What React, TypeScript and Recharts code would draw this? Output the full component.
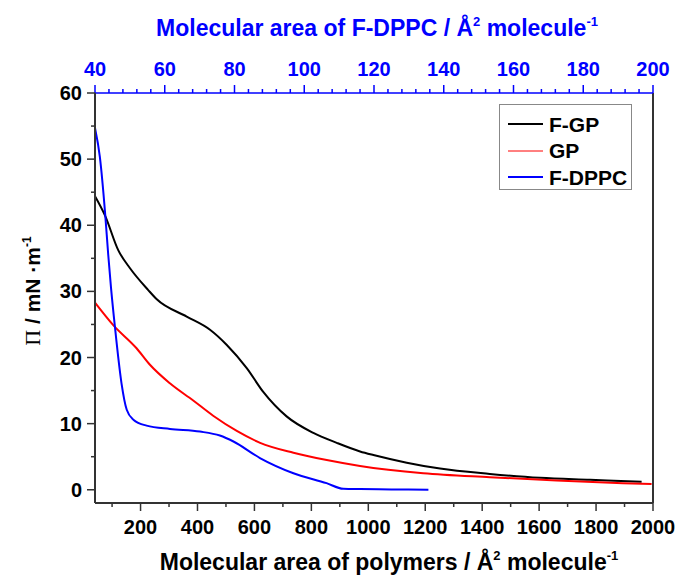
import React from 'react'
import { LineChart, Line, XAxis, YAxis, Legend, Label, ReferenceLine } from 'recharts'

// F-GP and GP, plotted against the bottom axis (polymers, Å²/molecule)
const fgpArea = [40, 75, 122, 163, 227, 257, 362, 444, 503, 573, 631, 713, 807, 889, 971, 1018, 1135, 1252, 1427, 1603, 1779, 1960]
const fgpPi = [44.4, 41.5, 36.2, 33.5, 30.2, 28.8, 26.2, 24.2, 21.9, 18.4, 14.8, 11.1, 8.6, 7.1, 5.8, 5.25, 4.1, 3.2, 2.4, 1.8, 1.5, 1.2]

const gpArea = [40, 104, 186, 233, 303, 385, 455, 538, 620, 737, 854, 971, 1193, 1427, 1661, 1894, 1995]
const gpPi = [28.3, 24.9, 21.4, 18.9, 16.1, 13.5, 11.2, 8.9, 7.1, 5.6, 4.5, 3.6, 2.5, 1.9, 1.4, 1.0, 0.86]

// F-DPPC, plotted against the top axis (F-DPPC, Å²/molecule)
const dppcArea = [40, 41.4, 42.9, 43.8, 44.6, 45.7, 47.6, 49.1, 51.0, 54.8, 61.5, 70.1, 75.8, 79.7, 87.3, 96.9, 106.4, 111.2, 116, 125, 135.6]
const dppcPi = [54.7, 50.3, 41.8, 35.5, 30.5, 24.7, 16.1, 12.1, 10.6, 9.7, 9.2, 8.8, 8.2, 7.3, 4.8, 2.5, 1.0, 0.15, 0.1, 0.05, 0.0]

const seriesNames = ['F-GP', 'GP', 'F-DPPC']
const bottomTicks = [100, 200, 300, 400, 500, 600, 700, 800, 900, 1000, 1100, 1200, 1300, 1400, 1500, 1600, 1700, 1800, 1900, 2000]
const topTicks = [40, 44, 48, 52, 56, 60, 64, 68, 72, 76, 80, 84, 88, 92, 96, 100, 104, 108, 112, 116, 120, 124, 128, 132, 136, 140, 144, 148, 152, 156, 160, 164, 168, 172, 176, 180, 184, 188, 192, 196, 200]
const piTicks = [0, 5, 10, 15, 20, 25, 30, 35, 40, 45, 50, 55, 60]

const zip = (xs: number[], ys: number[]) => xs.map((x, i) => ({ x, y: ys[i] }))

const SANS = '"Liberation Sans", Arial, sans-serif'
const AXIS = '#333'
const BLUE = '#0000ff'

const BottomTick = (props: any) => {
  const { x, y, payload } = props
  const major = payload.value % 200 === 0
  return (
    <g>
      <line x1={x} y1={y} x2={x} y2={y + (major ? 8 : 4)} stroke={AXIS} strokeWidth={1.5} />
      {major && (
        <text x={x} y={y + 31} textAnchor="middle" fontFamily={SANS} fontWeight="bold" fontSize={20} fill="#000">
          {payload.value}
        </text>
      )}
    </g>
  )
}

const TopTick = (props: any) => {
  const { x, y, payload } = props
  const major = payload.value % 20 === 0
  return (
    <g>
      <line x1={x} y1={y} x2={x} y2={y - (major ? 8 : 4)} stroke={BLUE} strokeWidth={1.5} />
      {major && (
        <text x={x} y={y - 17} textAnchor="middle" fontFamily={SANS} fontWeight="bold" fontSize={20} fill={BLUE}>
          {payload.value}
        </text>
      )}
    </g>
  )
}

const LeftTick = (props: any) => {
  const { x, y, payload } = props
  const major = payload.value % 10 === 0
  return (
    <g>
      <line x1={x} y1={y} x2={x - (major ? 8 : 4)} y2={y} stroke={AXIS} strokeWidth={1.5} />
      {major && (
        <text x={x - 13} y={y + 7} textAnchor="end" fontFamily={SANS} fontWeight="bold" fontSize={20} fill="#000">
          {payload.value}
        </text>
      )}
    </g>
  )
}

const legendWidths: Record<string, number> = { 'F-GP': 2, GP: 1, 'F-DPPC': 2 }

const renderLegend = (props: any) => {
  const items = [...props.payload].sort((a: any, b: any) => seriesNames.indexOf(a.value) - seriesNames.indexOf(b.value))
  return (
    <div style={{ border: '1px solid #888', width: 133, height: 86, boxSizing: 'border-box', background: '#fff', paddingTop: 6 }}>
      {items.map((entry: any) => (
        <div key={entry.value} style={{ display: 'flex', alignItems: 'center', height: 26.5 }}>
          <svg width={49} height={10} style={{ flex: 'none' }}>
            <line x1={8} y1={5} x2={43} y2={5} stroke={entry.color} strokeWidth={legendWidths[entry.value]} />
          </svg>
          <span style={{ fontFamily: SANS, fontWeight: 'bold', fontSize: 21, color: '#000', lineHeight: 1 }}>{entry.value}</span>
        </div>
      ))}
    </div>
  )
}

export default function App() {
  return (
    <div style={{ position: 'absolute', left: 0, top: 0, background: '#fff' }}>
      <LineChart width={678} height={575} margin={{ top: 0, right: 25, bottom: 0, left: 0 }}>
        <XAxis
          xAxisId="bottom"
          orientation="bottom"
          type="number"
          dataKey="x"
          domain={[40, 2000]}
          ticks={bottomTicks}
          interval={0}
          height={72}
          tickSize={0}
          tickMargin={0}
          tick={BottomTick}
          axisLine={{ stroke: AXIS, strokeWidth: 2 }}
          allowDataOverflow
        >
          <Label
            content={() => (
              <text x={389} y={570} textAnchor="middle" fontFamily={SANS} fontWeight="bold" fontSize={23} fill="#000">
                <tspan>Molecular area of polymers / Å</tspan>
                <tspan dy={-10} fontSize={13}>2</tspan>
                <tspan dy={10}> molecule</tspan>
                <tspan dy={-10} fontSize={13}>-1</tspan>
              </text>
            )}
          />
        </XAxis>
        <XAxis
          xAxisId="top"
          orientation="top"
          type="number"
          dataKey="x"
          domain={[40, 200]}
          ticks={topTicks}
          interval={0}
          height={93}
          tickSize={0}
          tickMargin={0}
          tick={TopTick}
          axisLine={{ stroke: BLUE, strokeWidth: 1.5 }}
          allowDataOverflow
        >
          <Label
            content={() => (
              <text x={377} y={36} textAnchor="middle" fontFamily={SANS} fontWeight="bold" fontSize={23} fill={BLUE}>
                <tspan>Molecular area of F-DPPC / Å</tspan>
                <tspan dy={-10} fontSize={13}>2</tspan>
                <tspan dy={10}> molecule</tspan>
                <tspan dy={-10} fontSize={13}>-1</tspan>
              </text>
            )}
          />
        </XAxis>
        <YAxis
          type="number"
          domain={[-2, 60]}
          ticks={piTicks}
          interval={0}
          width={95}
          tickSize={0}
          tickMargin={0}
          tick={LeftTick}
          axisLine={{ stroke: AXIS, strokeWidth: 2 }}
          allowDataOverflow
        >
          <Label
            content={() => (
              <text transform="translate(40,291) rotate(-90)" textAnchor="middle" fontFamily={SANS} fontWeight="bold" fontSize={21} fill="#000">
                <tspan fontFamily='"Liberation Serif", serif' fontWeight="normal" fontSize={22}>Π</tspan>
                <tspan> / mN ·m</tspan>
                <tspan dy={-9} fontSize={12}>-1</tspan>
              </text>
            )}
          />
        </YAxis>
        <ReferenceLine xAxisId="bottom" x={2000} stroke={AXIS} strokeWidth={2} />
        <Legend
          layout="vertical"
          align="center"
          verticalAlign="middle"
          content={renderLegend}
          wrapperStyle={{ left: 499, top: 104, width: 133, height: 86 }}
        />
        <Line
          xAxisId="bottom"
          data={zip(fgpArea, fgpPi)}
          dataKey="y"
          name="F-GP"
          type="monotone"
          stroke="#000"
          strokeWidth={2}
          dot={false}
          isAnimationActive={false}
        />
        <Line
          xAxisId="bottom"
          data={zip(gpArea, gpPi)}
          dataKey="y"
          name="GP"
          type="monotone"
          stroke="#ff0000"
          strokeWidth={2}
          dot={false}
          isAnimationActive={false}
        />
        <Line
          xAxisId="top"
          data={zip(dppcArea, dppcPi)}
          dataKey="y"
          name="F-DPPC"
          type="monotone"
          stroke={BLUE}
          strokeWidth={2}
          dot={false}
          isAnimationActive={false}
        />
      </LineChart>
    </div>
  )
}
